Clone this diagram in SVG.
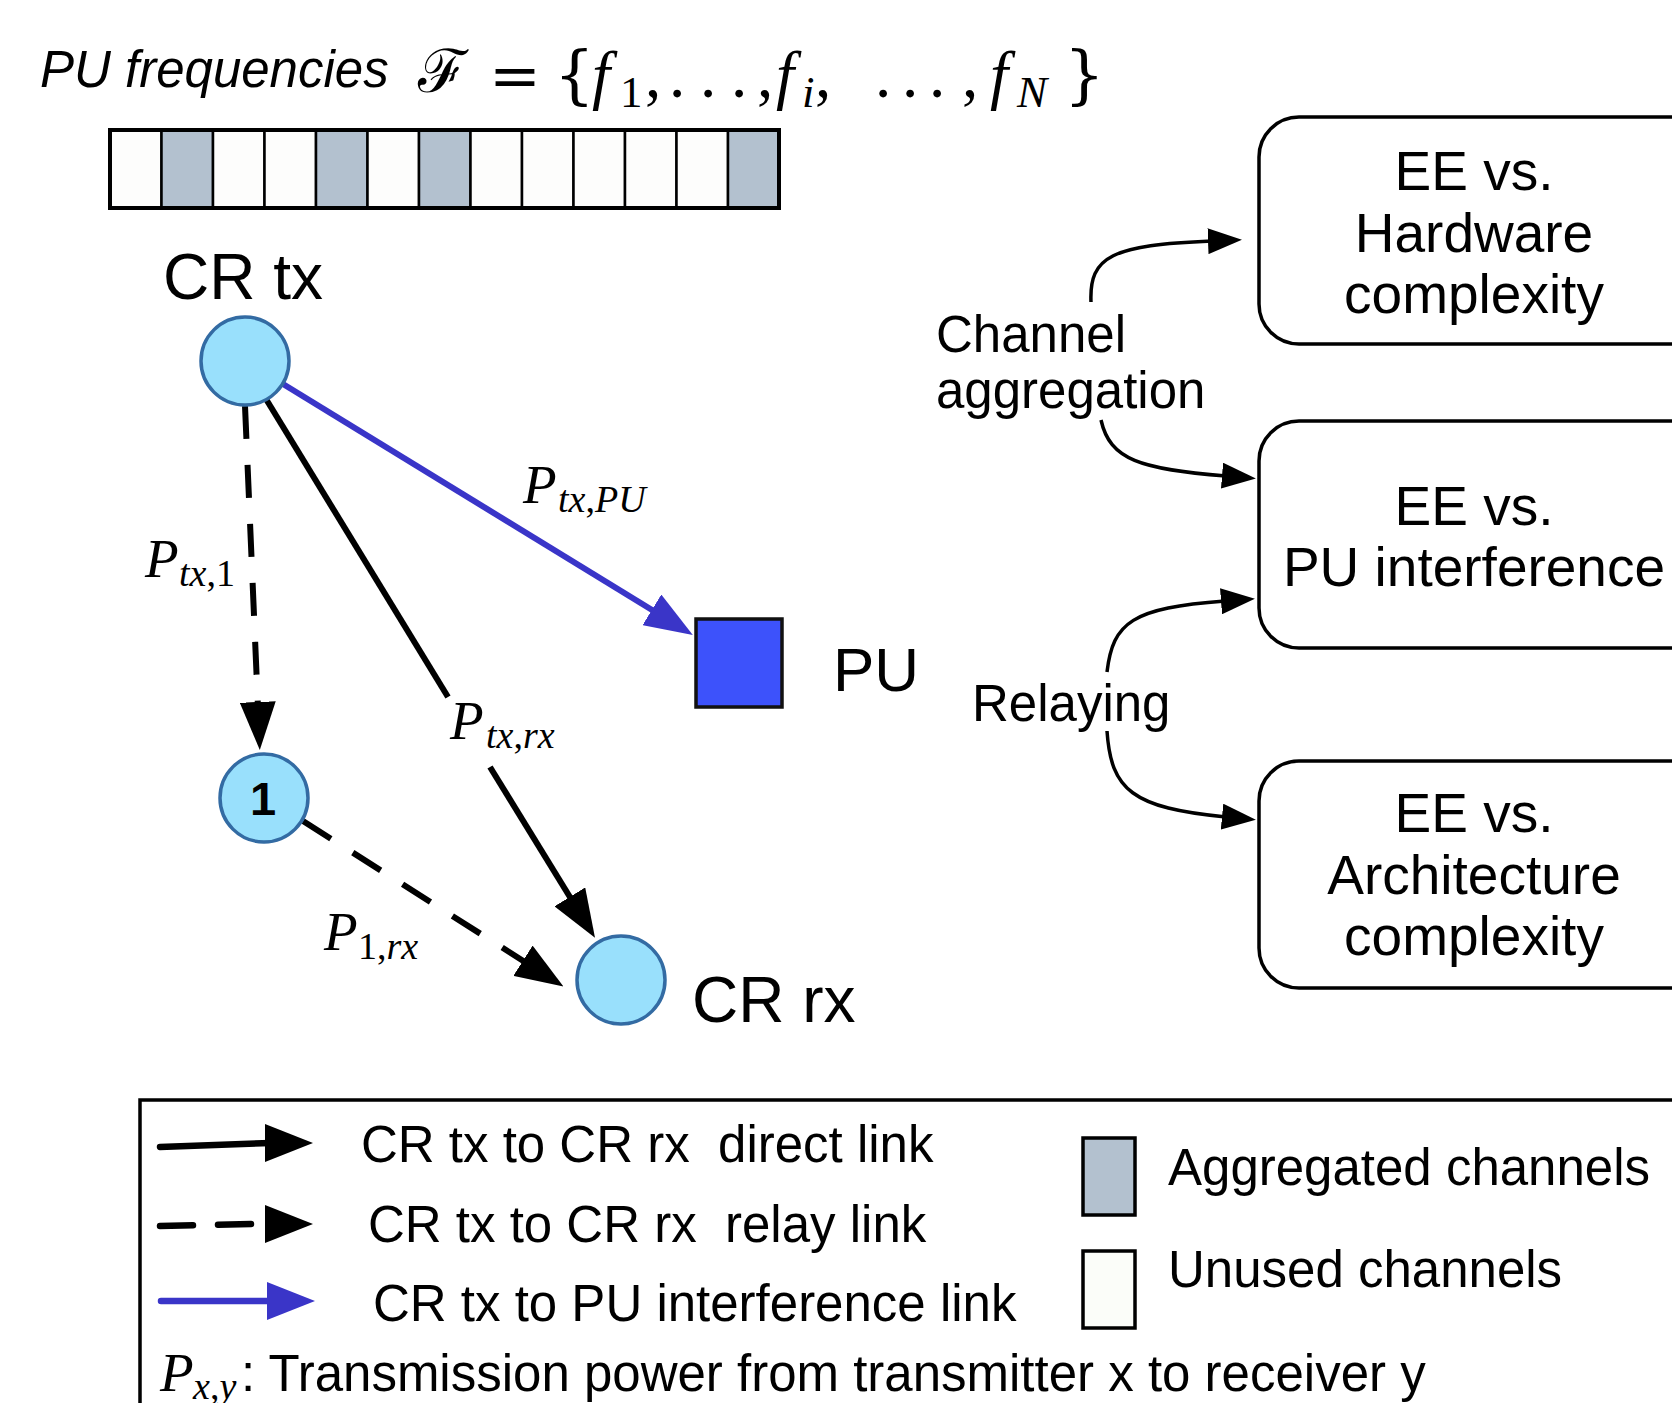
<svg xmlns="http://www.w3.org/2000/svg" width="1672" height="1403" viewBox="0 0 1672 1403">
<style>
.sans{font-family:"Liberation Sans",Arial,sans-serif;fill:#000}
.math{font-family:"Liberation Serif","Times New Roman",serif;font-style:italic;fill:#000}
.up{font-style:normal}
.sym{font-family:"DejaVu Serif","Liberation Serif",serif;font-style:normal}
.cell{stroke:#000;stroke-width:2.5}
.agg{fill:#b3c1cf}
.free{fill:#fdfdfc}
.node{fill:#99e0fc;stroke:#336ba3;stroke-width:3.5}
.box{fill:#fff;stroke:#000;stroke-width:3.5}
.blk{stroke:#000;stroke-width:6;fill:none}
.dash{stroke-dasharray:33 26}
.blu{stroke:#3a35c8;stroke-width:6;fill:none}
.crv{stroke:#000;stroke-width:3.5;fill:none}
.lg{font-size:51px;white-space:pre}
.bt{font-size:55px;text-anchor:middle}
.pl{font-size:55px}
.sb{font-size:38px}
</style>
<defs>
<marker id="ah" markerUnits="userSpaceOnUse" markerWidth="48" markerHeight="36" refX="6" refY="18" orient="auto"><path d="M0,0 L48,18 L0,36 z" fill="#000"/></marker>
<marker id="ahb" markerUnits="userSpaceOnUse" markerWidth="48" markerHeight="36" refX="6" refY="18" orient="auto"><path d="M0,0 L48,18 L0,36 z" fill="#3a35c8"/></marker>
<marker id="ahs" markerUnits="userSpaceOnUse" markerWidth="34" markerHeight="26" refX="4" refY="13" orient="auto"><path d="M0,0 L34,13 L0,26 z" fill="#000"/></marker>
</defs>
<rect width="1672" height="1403" fill="#fff"/>

<g id="title">
<text class="sans" x="40" y="87" font-size="51" font-style="italic">PU frequencies</text>
<text class="math" y="97" font-size="65"><tspan class="sym" x="418" y="92" font-size="60">ℱ</tspan><tspan class="sym" x="489" y="97" font-size="62">=</tspan><tspan class="sym" x="554" font-size="64">{</tspan><tspan x="592">f</tspan><tspan class="up" x="620" y="107" font-size="45">1</tspan><tspan class="up" x="645" y="97">,</tspan><tspan class="up" x="669">.</tspan><tspan class="up" x="700">.</tspan><tspan class="up" x="731">.</tspan><tspan class="up" x="757">,</tspan><tspan x="776">f</tspan><tspan x="802" y="107" font-size="45">i</tspan><tspan class="up" x="815" y="97">,</tspan><tspan class="up" x="875">.</tspan><tspan class="up" x="902">.</tspan><tspan class="up" x="929">.</tspan><tspan class="up" x="962">,</tspan><tspan x="990">f</tspan><tspan x="1017" y="107" font-size="45">N</tspan><tspan class="sym" x="1064" y="97" font-size="64">}</tspan></text>
</g>

<g id="channel-bar">
<rect class="cell free" x="110" y="130" width="51.5" height="78"/>
<rect class="cell agg" x="161.5" y="130" width="51.5" height="78"/>
<rect class="cell free" x="213" y="130" width="51.5" height="78"/>
<rect class="cell free" x="264.5" y="130" width="51.5" height="78"/>
<rect class="cell agg" x="316" y="130" width="51.5" height="78"/>
<rect class="cell free" x="367.5" y="130" width="51.5" height="78"/>
<rect class="cell agg" x="419" y="130" width="51.5" height="78"/>
<rect class="cell free" x="470.5" y="130" width="51.5" height="78"/>
<rect class="cell free" x="522" y="130" width="51.5" height="78"/>
<rect class="cell free" x="573.5" y="130" width="51.5" height="78"/>
<rect class="cell free" x="625" y="130" width="51.5" height="78"/>
<rect class="cell free" x="676.5" y="130" width="51.5" height="78"/>
<rect class="cell agg" x="728" y="130" width="51" height="78"/>
<rect x="110" y="130" width="669" height="78" fill="none" stroke="#000" stroke-width="4"/>
</g>

<g id="connectors">
<line class="blu" x1="283" y1="384" x2="657" y2="613" marker-end="url(#ahb)"/>
<line class="blk dash" x1="245" y1="406" x2="258" y2="708" marker-end="url(#ah)"/>
<line class="blk" x1="266" y1="399" x2="448" y2="697"/>
<line class="blk" x1="490" y1="767" x2="573" y2="902" marker-end="url(#ah)"/>
<line class="blk dash" x1="303" y1="821" x2="528" y2="964" marker-end="url(#ah)"/>
<path class="crv" d="M1091,302 C1089,256 1112,245 1212,241" marker-end="url(#ahs)"/>
<path class="crv" d="M1101,420 C1110,460 1140,469 1226,476" marker-end="url(#ahs)"/>
<path class="crv" d="M1107,672 C1113,622 1132,608 1225,601" marker-end="url(#ahs)"/>
<path class="crv" d="M1107,731 C1111,790 1132,808 1226,817" marker-end="url(#ahs)"/>
</g>

<g id="link-labels">
<text class="math pl" x="523" y="503">P<tspan class="sb" x="558" y="512">tx<tspan class="up">,</tspan>PU</tspan></text>
<text class="math pl" x="145" y="577">P<tspan class="sb" x="179" y="586">tx<tspan class="up">,1</tspan></tspan></text>
<text class="math pl" x="450" y="739">P<tspan class="sb" x="486" y="748">tx<tspan class="up">,</tspan>rx</tspan></text>
<text class="math pl" x="324" y="950">P<tspan class="sb" x="358" y="959"><tspan class="up">1,</tspan>rx</tspan></text>
</g>

<g id="cr-tx">
<circle class="node" cx="245" cy="361" r="44"/>
<text class="sans" x="163" y="299" font-size="64">CR tx</text>
</g>
<g id="relay-1">
<circle class="node" cx="264" cy="798" r="44"/>
<text class="sans" x="263" y="815" font-size="47" font-weight="bold" text-anchor="middle">1</text>
</g>
<g id="cr-rx">
<circle class="node" cx="621" cy="980" r="44"/>
<text class="sans" x="692" y="1022" font-size="64">CR rx</text>
</g>
<g id="pu">
<rect x="696" y="619" width="86" height="88" fill="#3d52fb" stroke="#111" stroke-width="3.5"/>
<text class="sans" x="833" y="691" font-size="62">PU</text>
</g>

<g id="channel-aggregation-label">
<text class="sans" font-size="51" x="936" y="352">Channel</text>
<text class="sans" font-size="51" x="936" y="408">aggregation</text>
</g>
<g id="relaying-label">
<text class="sans" font-size="51" x="972" y="721">Relaying</text>
</g>

<g id="ee-hardware">
<rect class="box" x="1259" y="117" width="460" height="227" rx="40"/>
<text class="sans bt" x="1474" y="190">EE vs.</text>
<text class="sans bt" x="1474" y="252">Hardware</text>
<text class="sans bt" x="1474" y="313">complexity</text>
</g>
<g id="ee-pu">
<rect class="box" x="1259" y="421" width="460" height="227" rx="40"/>
<text class="sans bt" x="1474" y="525">EE vs.</text>
<text class="sans bt" x="1474" y="586">PU interference</text>
</g>
<g id="ee-architecture">
<rect class="box" x="1259" y="761" width="460" height="227" rx="40"/>
<text class="sans bt" x="1474" y="832">EE vs.</text>
<text class="sans bt" x="1474" y="894">Architecture</text>
<text class="sans bt" x="1474" y="955">complexity</text>
</g>

<g id="legend">
<rect x="140" y="1100" width="1600" height="400" fill="none" stroke="#000" stroke-width="3.5"/>
<line x1="160" y1="1147" x2="271" y2="1143" stroke="#000" stroke-width="6.5" stroke-linecap="round"/>
<path d="M265,1124 L313,1143 L265,1162 z" fill="#000"/>
<line x1="160" y1="1226" x2="252" y2="1224" stroke="#000" stroke-width="6.5" stroke-linecap="round" stroke-dasharray="33 25"/>
<path d="M265,1205 L313,1224 L265,1243 z" fill="#000"/>
<line x1="161" y1="1301" x2="272" y2="1301" stroke="#3a35c8" stroke-width="6.5" stroke-linecap="round"/>
<path d="M267,1282 L315,1301 L267,1320 z" fill="#3a35c8"/>
<text class="sans lg" x="361" y="1162">CR tx to CR rx  direct link</text>
<text class="sans lg" x="368" y="1242">CR tx to CR rx  relay link</text>
<text class="sans lg" x="373" y="1321">CR tx to PU interference link</text>
<text class="math pl" x="160" y="1391">P<tspan class="sb" x="193" y="1399">x<tspan class="up">,</tspan>y</tspan></text>
<text class="sans lg" x="241" y="1391">: Transmission power from transmitter x to receiver y</text>
<rect x="1083" y="1138" width="52" height="77" fill="#b3c1cf" stroke="#000" stroke-width="3.5"/>
<text class="sans lg" x="1168" y="1185">Aggregated channels</text>
<rect x="1083" y="1251" width="52" height="77" fill="#fbfdf9" stroke="#000" stroke-width="3.5"/>
<text class="sans lg" x="1168" y="1287">Unused channels</text>
</g>
</svg>
